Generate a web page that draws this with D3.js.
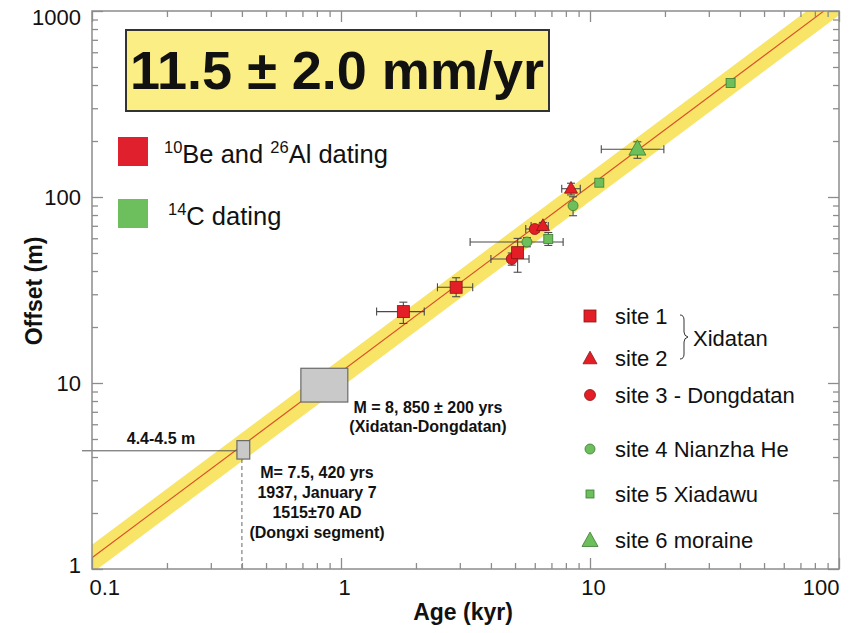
<!DOCTYPE html>
<html><head><meta charset="utf-8">
<script src="https://cdn.jsdelivr.net/npm/d3@7"></script>
<style>
body{margin:0;background:#fff;}
svg{font-family:"Liberation Sans",Arial,Helvetica,sans-serif;}
</style></head>
<body><svg id="c" width="852" height="633"></svg>
<script>
// ---- data ----
const rate = 11.5, rateErr = 2.0;            // mm/yr = m/kyr
const xMajor = [0.1, 1, 10, 100];
const xMajorLabels = ["0.1", "1", "10", "100"];
const yMajor = [1, 10, 100, 1000];
const yMajorLabels = ["1", "10", "100", "1000"];
// site points: age (kyr), offset (m), age error range, offset error range
const site1 = [
  {age:1.78, off:24.2, ax:[1.39,2.16], oy:[20.9,27.2]},
  {age:2.90, off:32.7, ax:[2.44,3.38], oy:[29.1,36.8]},
  {age:5.12, off:50.2, ax:null, oy:[39.4,59.9]}
];
const site2 = [
  {age:6.47, off:69.8, ax:[5.8,6.8], oy:[66,73]},
  {age:8.39, off:110.8, ax:[7.7,9.14], oy:[102.6,118.6]}
];
const site3 = [
  {age:4.85, off:46.4, ax:[4.0,5.69], oy:[43,50]},
  {age:6.0, off:67.3, ax:[5.52,6.24], oy:null}
];
const site4 = [
  {age:5.58, off:57.3, ax:[3.3,7.8], oy:[54,60.5]},
  {age:8.55, off:89.8, ax:null, oy:[79.3,100.3]}
];
const site5 = [
  {age:6.8, off:59.5, ax:null, oy:[54.9,64.4]},
  {age:10.9, off:119.4, ax:null, oy:null},
  {age:36.7, off:410, ax:null, oy:null}
];
const site6 = [
  {age:15.5, off:180.5, ax:[11.1,19.8], oy:[161.5,198]}
];
// earthquake boxes: age range (kyr), offset range (m)
const quakeBoxes = [
  {age:[0.69,1.065], off:[7.9,12]},
  {age:[0.382,0.43], off:[3.9,4.9]}
];
const recentOffset = 4.32, recentAge = 0.40;
const legendSites = ["site 1","site 2","site 3 - Dongdatan","site 4 Nianzha He","site 5 Xiadawu","site 6 moraine"];

// ---- chart ----
const svg = d3.select("#c");
const L=92,R=839,T=11,B=569;
const x = d3.scaleLog().domain([0.1,100]).range([L,R]);
const y = d3.scaleLog().domain([1,1000]).range([B,T]);
const RED="#e31e26", REDS="#8a1515", GRN="#6cbf5b", GRNS="#3d7a33";

svg.append("defs").append("clipPath").attr("id","clip")
  .append("rect").attr("x",L).attr("y",T).attr("width",R-L).attr("height",B-T);
const plot = svg.append("g").attr("clip-path","url(#clip)");

// band
const ages = [0.05, 200];
plot.append("path").datum(ages)
  .attr("d", d3.area().x(d=>x(d)).y0(d=>y(d*(rate-rateErr))).y1(d=>y(d*(rate+rateErr))))
  .attr("fill","#f8e466");
plot.append("path").datum(ages)
  .attr("d", d3.line().x(d=>x(d)).y(d=>y(d*rate)))
  .attr("stroke","#d8502a").attr("stroke-width",1.1).attr("fill","none");

// recent offset line & dashed
svg.append("line").attr("x1",L-10).attr("x2",x(quakeBoxes[1].age[0]))
  .attr("y1",y(recentOffset)).attr("y2",y(recentOffset)).attr("stroke","#555").attr("stroke-width",1);
svg.append("line").attr("x1",x(recentAge)).attr("x2",x(recentAge))
  .attr("y1",y(quakeBoxes[1].off[0])).attr("y2",B).attr("stroke","#666").attr("stroke-width",1).attr("stroke-dasharray","4,3");

// quake boxes
svg.selectAll(".qb").data(quakeBoxes).enter().append("rect")
  .attr("x",d=>x(d.age[0])).attr("width",d=>x(d.age[1])-x(d.age[0]))
  .attr("y",d=>y(d.off[1])).attr("height",d=>y(d.off[0])-y(d.off[1]))
  .attr("fill","#c9c9c9").attr("stroke","#6a6a6a").attr("stroke-width",1.2);

// axes / frame
function axisGroup(gen, tx, ty){ const g=svg.append("g").attr("transform",`translate(${tx},${ty})`).call(gen); g.select(".domain").remove(); g.selectAll("line").attr("stroke","#8c8c8c").attr("stroke-width",1.3); return g;}
const xMinor=[], yMinor=[];
[0.1,1,10].forEach(b=>{for(let k=2;k<=9;k++) xMinor.push(b*k);});
[1,10,100].forEach(b=>{for(let k=2;k<=9;k++) yMinor.push(b*k);});
axisGroup(d3.axisBottom(x).tickValues(xMinor).tickSize(-6).tickFormat(""),0,B);
axisGroup(d3.axisTop(x).tickValues(xMinor).tickSize(-6).tickFormat(""),0,T);
axisGroup(d3.axisLeft(y).tickValues(yMinor).tickSize(-6).tickFormat(""),L,0);
axisGroup(d3.axisRight(y).tickValues(yMinor).tickSize(-6).tickFormat(""),R,0);
const gxb = axisGroup(d3.axisBottom(x).tickValues(xMajor).tickSize(-11).tickPadding(10).tickFormat((d,i)=>xMajorLabels[i]),0,B);
axisGroup(d3.axisTop(x).tickValues(xMajor).tickSize(-11).tickFormat(""),0,T);
const gyl = axisGroup(d3.axisLeft(y).tickValues(yMajor).tickSize(-11).tickPadding(11).tickFormat((d,i)=>yMajorLabels[i]),L,0);
axisGroup(d3.axisRight(y).tickValues(yMajor).tickSize(-11).tickFormat(""),R,0);
[gxb,gyl].forEach(g=>g.selectAll("text").attr("font-size",22).attr("fill","#111").attr("font-family","Liberation Sans, Arial, sans-serif"));
gxb.selectAll("text").attr("text-anchor",(d,i)=>i===0?"start":(i===xMajor.length-1?"end":"middle"))
  .attr("dx",(d,i)=>i===0?-3:(i===xMajor.length-1?0:3));
gyl.selectAll("text").attr("dy",(d,i)=>i===0?"0.15em":(i===yMajor.length-1?"0.62em":"0.32em"));
svg.append("rect").attr("x",L).attr("y",T).attr("width",R-L).attr("height",B-T)
  .attr("fill","none").attr("stroke","#8c8c8c").attr("stroke-width",1.5);

// error bars
const allPts = [site1,site2,site3,site4,site5,site6];
const eb = svg.append("g").attr("stroke","#4a4a4a").attr("stroke-width",1.1);
allPts.flat().forEach(p=>{
  if(p.ax){ const yy=y(p.off);
    eb.append("line").attr("x1",x(p.ax[0])).attr("x2",x(p.ax[1])).attr("y1",yy).attr("y2",yy);
    p.ax.forEach(a=>eb.append("line").attr("x1",x(a)).attr("x2",x(a)).attr("y1",yy-4).attr("y2",yy+4));
  }
  if(p.oy){ const xx=x(p.age);
    eb.append("line").attr("x1",xx).attr("x2",xx).attr("y1",y(p.oy[0])).attr("y2",y(p.oy[1]));
    p.oy.forEach(o=>eb.append("line").attr("x1",xx-4).attr("x2",xx+4).attr("y1",y(o)).attr("y2",y(o)));
  }
});

// markers
function sq(g,cx,cy,s,f,st){g.append("rect").attr("x",cx-s/2).attr("y",cy-s/2).attr("width",s).attr("height",s).attr("fill",f).attr("stroke",st).attr("stroke-width",0.8);}
function ci(g,cx,cy,r,f,st){g.append("circle").attr("cx",cx).attr("cy",cy).attr("r",r).attr("fill",f).attr("stroke",st).attr("stroke-width",0.8);}
function tri(g,cx,cy,w,f,st){const h=w*0.9;g.append("path").attr("d",`M${cx},${cy-h*0.62}L${cx+w/2},${cy+h*0.38}L${cx-w/2},${cy+h*0.38}Z`).attr("fill",f).attr("stroke",st).attr("stroke-width",0.8);}
const mk = svg.append("g");
site3.forEach(p=>ci(mk,x(p.age),y(p.off),5.5,RED,REDS));
site1.forEach(p=>sq(mk,x(p.age),y(p.off),12,RED,REDS));
site2.forEach(p=>tri(mk,x(p.age),y(p.off),13,RED,REDS));
site4.forEach(p=>ci(mk,x(p.age),y(p.off),5,GRN,GRNS));
site5.forEach(p=>sq(mk,x(p.age),y(p.off),9,GRN,GRNS));
site6.forEach(p=>tri(mk,x(p.age),y(p.off),17,GRN,GRNS));

// title box
svg.append("rect").attr("x",126).attr("y",30).attr("width",423).attr("height",81)
  .attr("fill","#faee84").attr("stroke","#333").attr("stroke-width",2);
svg.append("text").attr("x",337).attr("y",89).attr("text-anchor","middle")
  .attr("font-size",54).attr("font-weight","bold").attr("fill","#111").text("11.5 ± 2.0 mm/yr");

// dating legend
svg.append("rect").attr("x",118).attr("y",137).attr("width",30).attr("height",29).attr("fill","#e0202c");
svg.append("rect").attr("x",118).attr("y",199).attr("width",30).attr("height",29).attr("fill","#6cbf5c");
const t1 = svg.append("text").attr("x",164).attr("y",163).attr("font-size",25.5).attr("fill","#111");
t1.append("tspan").attr("font-size",16.5).attr("dy",-10).text("10");
t1.append("tspan").attr("dy",10).text("Be and ");
t1.append("tspan").attr("font-size",16.5).attr("dy",-10).text("26");
t1.append("tspan").attr("dy",10).text("Al dating");
const t2 = svg.append("text").attr("x",168).attr("y",225).attr("font-size",25.5).attr("fill","#111");
t2.append("tspan").attr("font-size",16.5).attr("dy",-10).text("14");
t2.append("tspan").attr("dy",10).text("C dating");

// site legend
const lgY=[316,358,395,449,494,540], lgX=590;
sq(svg,lgX,lgY[0],12,RED,REDS);
tri(svg,lgX,lgY[1]+1,14,RED,REDS);
ci(svg,lgX,lgY[2],5.5,RED,REDS);
ci(svg,lgX,lgY[3],5,GRN,GRNS);
sq(svg,lgX,lgY[4],8,GRN,GRNS);
tri(svg,lgX,lgY[5]+1,16,GRN,GRNS);
svg.selectAll(".lg").data(legendSites).enter().append("text")
  .attr("x",615).attr("y",(d,i)=>lgY[i]).attr("dy","0.35em").attr("font-size",22).attr("fill","#111").text(d=>d);
svg.append("path").attr("d","M680,315 q4,0 4,5 v12 q0,4 4,5 q-4,1 -4,5 v12 q0,5 -4,5")
  .attr("fill","none").attr("stroke","#333").attr("stroke-width",1);
svg.append("text").attr("x",693).attr("y",338).attr("dy","0.35em").attr("font-size",22).attr("fill","#111").text("Xidatan");

// annotations
const ann = svg.append("g").attr("font-weight","bold").attr("font-size",16).attr("fill","#111").attr("text-anchor","middle");
ann.append("text").attr("x",428).attr("y",407).attr("dy","0.35em").text("M = 8, 850 ± 200 yrs");
ann.append("text").attr("x",428).attr("y",426).attr("dy","0.35em").text("(Xidatan-Dongdatan)");
ann.append("text").attr("x",161).attr("y",438).attr("dy","0.35em").text("4.4-4.5 m");
["M= 7.5, 420 yrs","1937, January 7","1515±70 AD","(Dongxi segment)"].forEach((s,i)=>
  ann.append("text").attr("x",317).attr("y",472+i*20).attr("dy","0.35em").text(s));

// axis titles
svg.append("text").attr("x",463).attr("y",620).attr("text-anchor","middle").attr("font-size",23).attr("font-weight","bold").attr("fill","#111").text("Age (kyr)");
svg.append("text").attr("transform","translate(42,291) rotate(-90)").attr("text-anchor","middle").attr("font-size",23).attr("font-weight","bold").attr("fill","#111").text("Offset (m)");
</script></body></html>
